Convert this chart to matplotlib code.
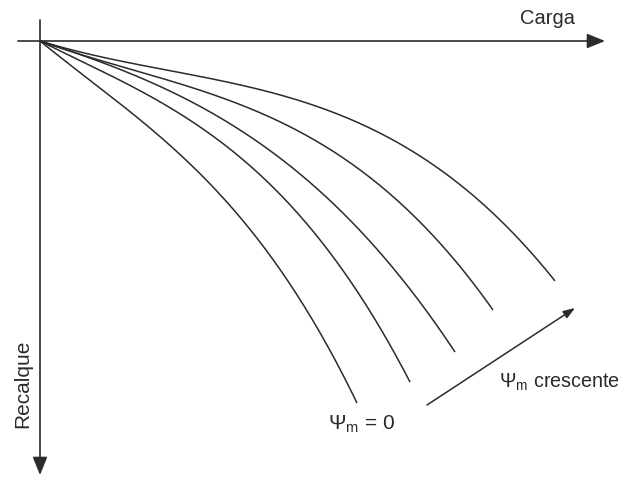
import matplotlib
matplotlib.use("Agg")
import matplotlib.pyplot as plt
import numpy as np

plt.rcParams["font.family"] = ["Liberation Sans", "DejaVu Sans"]
plt.rcParams["mathtext.fontset"] = "custom"
plt.rcParams["mathtext.rm"] = "Liberation Sans"
plt.rcParams["mathtext.it"] = "Liberation Sans:italic"

# load vs settlement curves (origin at the axes corner)
carga_1 = [0, 50, 100, 147, 193, 230, 260, 290, 317]
recalque_1 = [0, 37, 80, 122, 166, 214, 259, 310, 362]

carga_2 = [0, 60, 120, 170, 210, 247, 285, 320, 345, 370]
recalque_2 = [0, 28, 62, 94, 125, 158, 204, 257, 297, 341]

carga_3 = [0, 60, 120, 170, 210, 255, 295, 330, 360, 390, 415]
recalque_3 = [0, 22, 47, 71, 94, 127, 162, 202, 239, 277, 311]

carga_4 = [0, 60, 120, 165, 205, 255, 305, 357, 393, 425, 453]
recalque_4 = [0, 17, 36, 52, 67, 89, 117, 159, 194, 231, 269]

carga_5 = [0, 60, 130, 200, 263, 300, 360, 410, 450, 480, 515]
recalque_5 = [0, 14, 28, 44, 62, 76, 104, 136, 166, 196, 240]

curvas = [(carga_1, recalque_1), (carga_2, recalque_2), (carga_3, recalque_3),
          (carga_4, recalque_4), (carga_5, recalque_5)]

fig = plt.figure(figsize=(6.25, 4.79), dpi=100)
ax = fig.add_axes([0, 0, 1, 1])
ax.set_xlim(-40, 585)
ax.set_ylim(438, -41)
ax.axis("off")

cor = "#2b2b2b"
for cx, cy in curvas:
    # smooth line through the read points
    w = np.ones(len(cx))
    w[0] = w[-1] = 10
    coef = np.polyfit(cx, cy, 3, w=w)
    xs = np.linspace(cx[0], cx[-1], 200)
    ax.plot(xs, np.polyval(coef, xs), color=cor, lw=1.1, solid_capstyle="butt")

# axes with arrows
seta = dict(arrowstyle="-|>,head_length=1.1,head_width=0.45", color=cor, lw=1.2,
            shrinkA=0, shrinkB=0)
ax.annotate("", xy=(565, 0), xytext=(-22, 0), arrowprops=seta)
ax.annotate("", xy=(0, 434), xytext=(0, -21), arrowprops=seta)

ax.text(480, -23, "Carga", fontsize=14.5, color=cor, ha="left", va="center")
ax.text(-17, 343, "Recalque", fontsize=15, color=cor, rotation=90,
        ha="center", va="center")

# increasing Psi arrow
ax.annotate("", xy=(535, 267), xytext=(387, 364),
            arrowprops=dict(arrowstyle="-|>,head_length=0.7,head_width=0.25",
                            color=cor, lw=1.1, shrinkA=0, shrinkB=0))
ax.text(459, 341, r"$\Psi_\mathrm{m}$ crescente", fontsize=14.2, color=cor,
        ha="left", va="center")
ax.text(288, 383, r"$\Psi_\mathrm{m}$ = 0", fontsize=15, color=cor,
        ha="left", va="center")

fig.savefig("out.png", dpi=100, facecolor="white")
